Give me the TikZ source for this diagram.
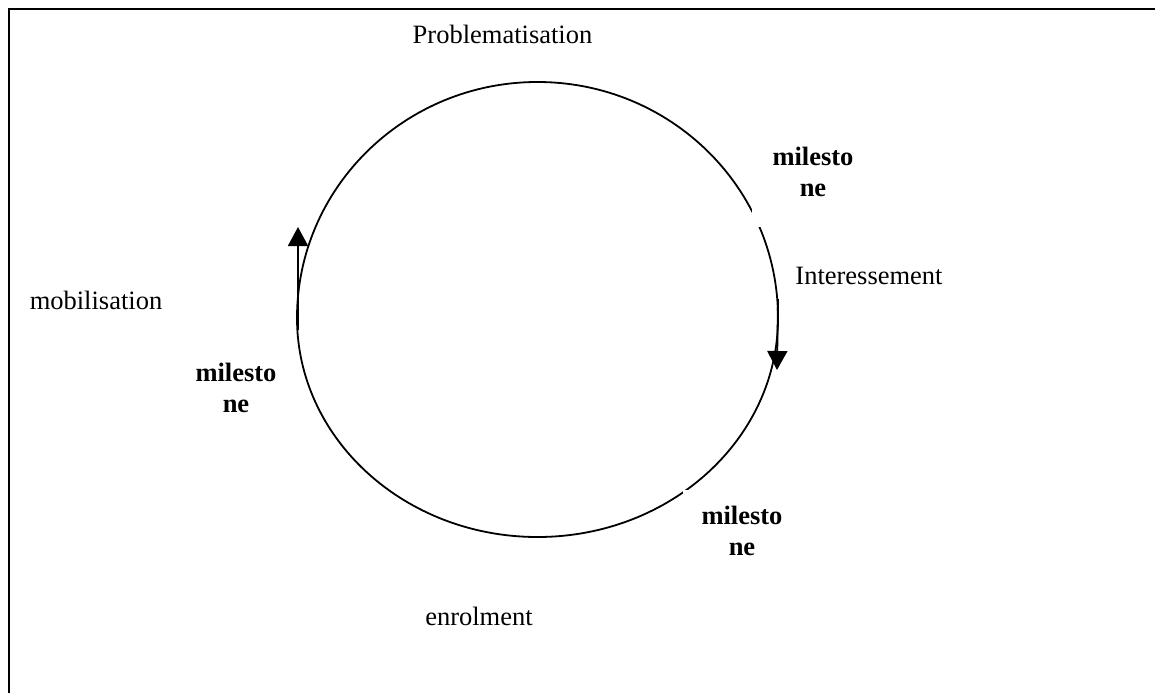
\documentclass[tikz,border=0pt]{standalone}
\usepackage{fontspec}
\setmainfont{Liberation Serif}
\usetikzlibrary{arrows.meta}
\usetikzlibrary{positioning}
\tikzset{phase/.style={inner sep=0pt, font=\fontsize{26.5}{31}\selectfont},
milestone/.style={phase, font=\fontsize{26.5}{31}\selectfont\bfseries, align=center, fill=white},
ring/.style={line width=1.8pt},
frameline/.style={line width=2.5pt},
>={Triangle[length=19pt,width=20pt]}}

\begin{document}
\begin{tikzpicture}[x=1pt,y=-1pt]
\useasboundingbox (0,0) rectangle (1155,693);
% the cycle
\draw[ring] (297,318) arc[start angle=180,end angle=360,x radius=240.5,y radius=236]
  arc[start angle=0,end angle=180,x radius=240.5,y radius=219] -- cycle;

\node(prob) [phase] at (502.5,34) {Problematisation};
\node(msTop) [milestone, minimum width=122pt, minimum height=110pt] at (813,172) {milesto\\ne};
\node(inter) [phase] at (869,276) {Interessement};
\node(msLow) [milestone, minimum width=118pt, minimum height=82pt] at (742,531) {milesto\\ne};
\node(enrol) [phase] at (479,616) {enrolment};
\node(msLeft) [milestone] at (236,388) {milesto\\ne};
\node(mobil) [phase] at (96,300) {mobilisation};

\coordinate (interFrom) at (778,299);
\coordinate (interTo) at (777,370);
\coordinate (mobFrom) at (298,330);
\coordinate (mobTo) at (298,227);
\draw[ring]
(interFrom)
   edge [->]
(interTo);
\draw[ring]
(mobFrom)
   edge [->]
(mobTo);

\draw[frameline] (9,693) -- (9,9) -- (1155,9);
\end{tikzpicture}
\end{document}
